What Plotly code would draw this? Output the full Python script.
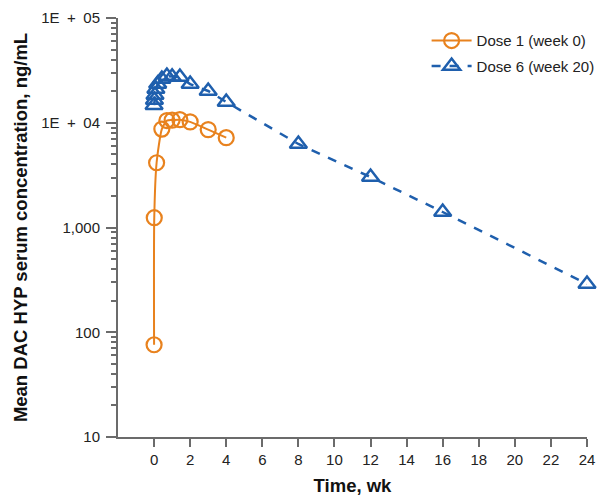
import plotly.graph_objects as go

# Data (weeks, ng/mL)
dose1_t = [0.0, 0.01, 0.14, 0.43, 0.71, 1.0, 1.43, 2.0, 3.0, 4.0]
dose1_v = [76, 1240, 4150, 8700, 10500, 10600, 10700, 10200, 8600, 7200]

dose6_t = [0.0, 0.02, 0.05, 0.1, 0.2, 0.43, 0.71, 1.0, 1.43, 2.0, 3.0, 4.0, 8.0, 12.0, 16.0, 24.0]
dose6_v = [14700, 16500, 18400, 21000, 23500, 26200, 27900, 27500, 27300, 23400, 20100, 15800, 6270, 3035, 1406, 289]

x_ticks = list(range(0, 25, 2))
y_tickvals = [10, 100, 1000, 10000, 100000]
y_ticktext = ["10", "100", "1,000", "1E\u2002+\u200204", "1E\u2002+\u200205"]

ORANGE = "#E8821E"
BLUE = "#1F5FAD"
AXIS = "#6b6b6b"

fig = go.Figure()
fig.add_trace(go.Scatter(
    x=dose1_t, y=dose1_v, name="Dose 1 (week 0)", legendgroup="d1",
    mode="lines+markers", cliponaxis=False,
    line=dict(color=ORANGE, width=2, shape="spline", smoothing=0.6),
    marker=dict(symbol="circle-open", size=15, color=ORANGE, line=dict(width=2.2, color=ORANGE)),
))
fig.add_trace(go.Scatter(
    x=dose6_t, y=dose6_v, name="Dose 6 (week 20)", legendgroup="d6",
    mode="lines+markers", cliponaxis=False,
    line=dict(color=BLUE, width=2.5, dash="dash"),
    marker=dict(symbol="triangle-up-open", size=15, color=BLUE, line=dict(width=2.5, color=BLUE)),
))

fig.update_layout(
    width=603, height=496,
    margin=dict(l=118, r=16, t=18, b=59, autoexpand=False),
    paper_bgcolor="white", plot_bgcolor="white",
    font=dict(family="Liberation Sans, Arial, sans-serif", size=15, color="#222"),
    showlegend=True,
    legend=dict(x=0.658, y=0.985, xanchor="left", yanchor="top",
                font=dict(size=15, color="#222"), bgcolor="rgba(0,0,0,0)",
                tracegroupgap=3, itemwidth=40),
)
fig.update_xaxes(
    range=[-2, 24], tickvals=x_ticks, ticktext=[str(v) for v in x_ticks],
    showline=True, linecolor=AXIS, linewidth=2, showgrid=False, zeroline=False,
    ticks="outside", ticklen=8, tickwidth=2, tickcolor=AXIS, automargin=False,
    tickfont=dict(size=15, color="#222"),
    title=dict(text="<b>Time, wk</b>", font=dict(size=18.5, color="#111"), standoff=14),
)
fig.update_yaxes(
    type="log", range=[1, 5], tickvals=y_tickvals, ticktext=y_ticktext,
    showline=True, linecolor=AXIS, linewidth=2, showgrid=False, zeroline=False,
    ticks="outside", ticklen=10, tickwidth=2, tickcolor=AXIS, automargin=False,
    ticklabelstandoff=3,
    minor=dict(ticks="outside", ticklen=5, tickwidth=1.5, tickcolor=AXIS, dtick="D1", showgrid=False),
    tickfont=dict(size=15, color="#222"),
    title=dict(text="<b>Mean DAC HYP serum concentration, ng/mL</b>", font=dict(size=18.5, color="#111"), standoff=9),
)

fig.write_html("out.html", config={"displayModeBar": False},
               post_script="document.body.style.margin='0';document.body.style.overflow='hidden';")
